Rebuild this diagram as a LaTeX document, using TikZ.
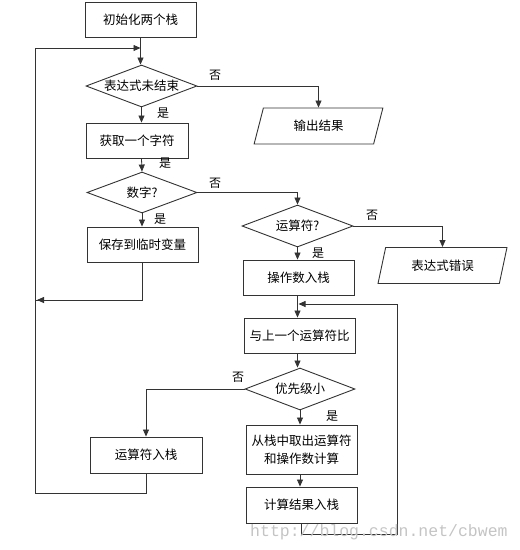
\documentclass[tikz,border=0pt]{standalone}
\usepackage{fontspec}
\setmainfont{Noto Sans CJK SC}
\newfontfamily\wmfont{Liberation Mono}
\usetikzlibrary{shapes.geometric,arrows.meta}
\definecolor{ln}{HTML}{333333}
\definecolor{wm}{HTML}{C4C4C4}
\tikzset{
  base/.style={draw=ln, line width=0.9pt, inner sep=0pt, font=\fontsize{12.5}{18}\selectfont, text=black},
  box/.style={base, rectangle, minimum width=111pt, minimum height=35pt},
  dia/.style={base, diamond, aspect=2.64, minimum width=111pt, minimum height=42pt},
  para/.style={base, trapezium, trapezium left angle=70, trapezium right angle=110, trapezium stretches=true, minimum width=129pt, minimum height=36pt},
  conn/.style={draw=ln, line width=0.8pt, -{Triangle[length=7pt,width=6pt]}},
  plain/.style={draw=ln, line width=0.8pt},
  lbl/.style={font=\fontsize{12}{14}\selectfont, inner sep=0pt}
}
\begin{document}
\begin{tikzpicture}[x=1pt,y=-1pt]
\path[use as bounding box] (0,0) rectangle (520,550);

\node[box] (init) at (140.5,19.5) {初始化两个栈};
\node[dia] (d1) at (141.5,86) {表达式未结束};
\node[box, minimum width=102pt] (get) at (137,140.5) {获取一个字符};
\node[dia, minimum width=110pt, minimum height=41pt] (d2) at (142,192.5) {数字?};
\node[box] (save) at (142.5,244.5) {保存到临时变量};
\node[para] (out) at (318.5,126) {输出结果};
\node[dia] (d3) at (297.5,226) {运算符?};
\node[para] (err) at (442.5,265.5) {表达式错误};
\node[box] (push) at (298.5,277.5) {操作数入栈};
\node[box] (cmp) at (299.5,335.5) {与上一个运算符比};
\node[dia, minimum width=110pt] (d4) at (300,389) {优先级小};
\node[box, minimum width=112pt, minimum height=36pt] (oppush) at (146,455) {运算符入栈};
\node[box, minimum height=49pt, align=center] (calc) at (301.5,449.5) {从栈中取出运算符\\和操作数计算};
\node[box, minimum height=36pt] (res) at (301.5,505) {计算结果入栈};

% loop coordinates
\coordinate (lx) at (35,48);
\coordinate (lb) at (35,493);
\coordinate (sv) at (35,300);
\coordinate (rb) at (397,534);
\coordinate (rt) at (397,304);

% main column
\draw[conn] (init.south) -- (init.south |- d1.north);
\draw[conn] (d1.south) -- (d1.south |- get.north);
\draw[conn] (d1.south |- get.south) -- (d2.north);
\draw[conn] (d2.south) -- (d2.south |- save.north);
\draw[plain] (save.south) -- (save.south |- sv) -- (sv);
\draw[conn] (save.south |- sv) -- ([xshift=2pt]sv);

% outer loop
\draw[plain] (oppush.south) -- (oppush.south |- lb) -- (lb) -- (lx);
\draw[conn] (lx) -- (lx -| init.south);

% no-branches
\draw[conn] (d1.east) -| (out.north);
\draw[conn] (d2.east) -| (d3.north);
\draw[conn] (d3.east) -| (err.north);

% right column
\draw[conn] (d3.south) -- (d3.south |- push.north);
\draw[conn] (d3.south |- push.south) -- (d3.south |- cmp.north);
\draw[conn] (d3.south |- cmp.south) -- (d3.south |- d4.north);
\draw[conn] (d4.west) -| (oppush.north);
\draw[conn] (d4.south) -- (d4.south |- calc.north);
\draw[conn] (d4.south |- calc.south) -- (d4.south |- res.north);

% inner loop
\draw[plain] (res.south) -- (res.south |- rb) -- (rb) -- (rt);
\draw[conn] (rt) -- (rt -| push.south);

% labels
\node[lbl] (n1) at (215,75) {否};
\node[lbl] (y1) at (163,113) {是};
\node[lbl] (y2) at (165,163) {是};
\node[lbl] (n2) at (215,183) {否};
\node[lbl] (y3) at (160,219) {是};
\node[lbl] (n3) at (372,215) {否};
\node[lbl] (y4) at (318,253) {是};
\node[lbl] (n4) at (238,377) {否};
\node[lbl] (y5) at (332,416) {是};

% watermark
\node[anchor=base west, inner sep=0pt, text=wm, font=\wmfont\fontsize{16.5}{18}\selectfont] (wmk) at (250,536) {http://blog.csdn.net/cbwem};
\end{tikzpicture}
\end{document}
